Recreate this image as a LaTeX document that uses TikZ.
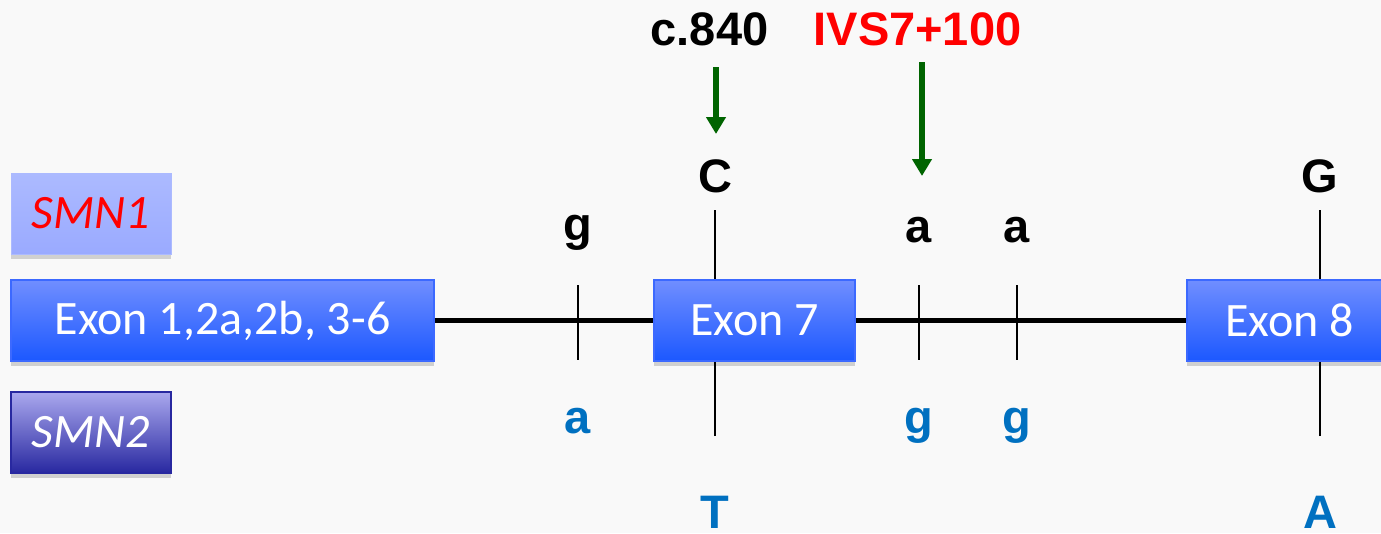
\documentclass[tikz,border=0pt]{standalone}
\usepackage{fontspec}
\setmainfont{Carlito}
\newfontfamily\arialfont{Liberation Sans}
\usetikzlibrary{arrows.meta,shadows}

\definecolor{paper}{RGB}{249,249,249}
\definecolor{exontop}{RGB}{112,142,255}
\definecolor{exonbot}{RGB}{28,88,255}
\definecolor{exonline}{RGB}{60,105,255}
\definecolor{smnonetop}{RGB}{172,186,255}
\definecolor{smnonebot}{RGB}{154,170,255}
\definecolor{smntwotop}{RGB}{170,168,238}
\definecolor{smntwobot}{RGB}{40,40,160}
\definecolor{snpblue}{RGB}{0,112,192}
\definecolor{arrowgreen}{RGB}{0,100,0}
\definecolor{shadowgray}{RGB}{208,208,208}

\begin{document}
\begin{tikzpicture}[x=1pt,y=-1pt,
  box/.style={rectangle,inner sep=0pt,minimum height=81pt,text=white,
    font=\fontsize{48pt}{52pt}\selectfont,
    drop shadow={shadow xshift=0pt,shadow yshift=-5pt,fill=shadowgray,opacity=1}},
  exon/.style={box,draw=exonline,line width=1.2pt,top color=exontop,bottom color=exonbot},
  gene/.style={box,minimum width=160pt,font=\fontsize{48pt}{52pt}\selectfont\itshape},
  base1/.style={anchor=base,inner sep=0pt,font=\arialfont\bfseries\fontsize{47pt}{50pt}\selectfont},
  base2/.style={base1,text=snpblue},
  backbone/.style={line width=5.5pt},
  tick/.style={line width=2.5pt},
  pointer/.style={arrowgreen,line width=5.5pt,-{Triangle[width=19pt,length=17pt]}}]
  \fill[paper] (0,0) rectangle (1381,533);
  \clip (0,0) rectangle (1381,533);

  % gene labels
  \node[gene,draw=smnonetop,line width=1pt,top color=smnonetop,bottom color=smnonebot,
    text=red] (smn1) at (91,213.5) {SMN1};
  \node[gene,draw=smntwobot,line width=1.5pt,top color=smntwotop,bottom color=smntwobot]
    (smn2) at (91,432.5) {SMN2};

  % exons and introns
  \node[exon,minimum width=423pt] (ex1) at (222.5,320.5) {Exon 1,2a,2b, 3-6};
  \node[exon,minimum width=201pt] (ex7) at (754.5,320.5) {Exon 7};
  \node[exon,minimum width=205pt] (ex8) at (1289.5,320.5) {Exon 8};
  \draw[backbone] (ex1.east) -- (ex7.west);
  \draw[backbone] (ex7.east) -- (ex8.west);

  % intronic sites
  \foreach \x/\nm in {578/i6, 919/i7a, 1017/i7b} {
    \coordinate (\nm up) at (\x,285);
    \coordinate (\nm dn) at (\x,360);
    \draw[tick] (\nm up) -- (\nm dn);
  }
  % exonic sites
  \foreach \x/\nm in {715/e7, 1320/e8} {
    \coordinate (\nm up) at (\x,210);
    \coordinate (\nm dn) at (\x,436);
    \draw[tick] (\nm up) -- (\nm up |- ex7.north);
    \draw[tick] (\nm dn) -- (\nm dn |- ex7.south);
  }

  % SMN1 bases
  \node[base1] (g1) at (578,240) {g};
  \node[base1] (c1) at (715,192) {C};
  \node[base1] (a1) at (919,242) {a};
  \node[base1] (a2) at (1017,242) {a};
  \node[base1] (g2) at (1320,192) {G};
  % SMN2 bases
  \node[base2] (a3) at (578,433) {a};
  \node[base2] (t1) at (715,528) {T};
  \node[base2] (g3) at (919,433) {g};
  \node[base2] (g4) at (1017,433) {g};
  \node[base2] (a4) at (1320,528) {A};

  % variant names
  \node[base1] (c840) at (709.5,45) {c.840};
  \node[base1,text=red] (ivs) at (917.5,45) {IVS7+100};
  \coordinate (p1) at (716,67);
  \coordinate (q1) at (716,134);
  \coordinate (p2) at (922,62);
  \coordinate (q2) at (922,176);
  \draw[pointer] (p1) -- (q1);
  \draw[pointer] (p2) -- (q2);
\end{tikzpicture}
\end{document}
